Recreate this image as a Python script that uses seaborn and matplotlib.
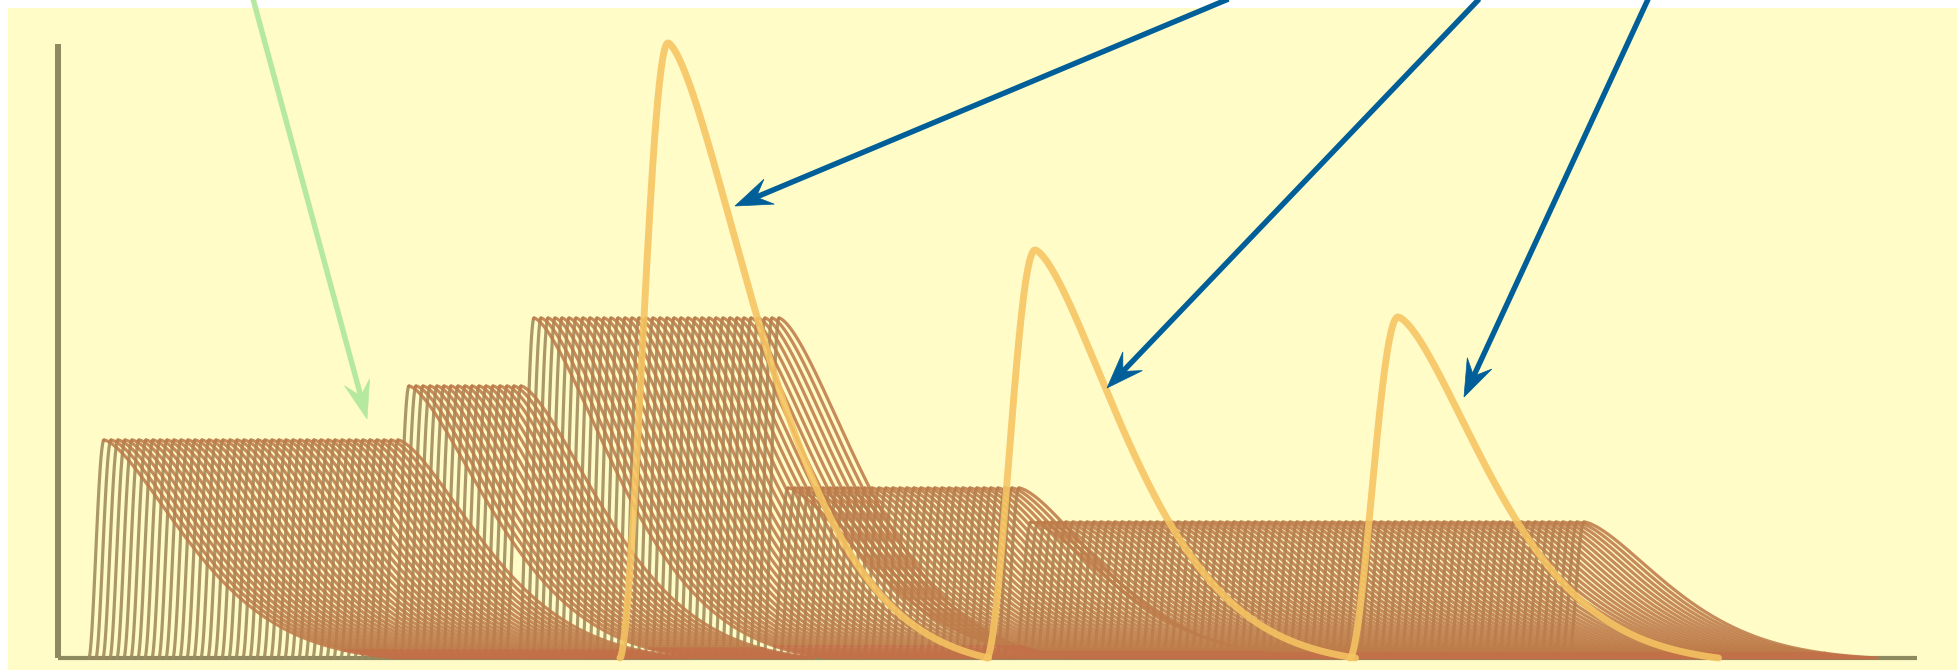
import numpy as np
import pandas as pd
import matplotlib
matplotlib.use("Agg")
import matplotlib.pyplot as plt
import seaborn as sns
from matplotlib.patches import Rectangle, Polygon

# ---------------- data (time in px-like units, response height above baseline) -------------
block_first_onset = [89, 394, 519, 773, 1016]
block_last_onset = [383, 511, 766, 1009, 1569]
block_amplitude = [218, 272, 340, 170, 136]
event_spacing = 7

single_peak = [668, 1035, 1398]
single_amplitude = [615, 408, 341]

# arrows: (start, tip) in image-pixel convention (y down)
green_arrow = [(252, -5), (367, 419)]
blue_arrows = [[(1238, -5), (735, 206)],
               [(1483, -5), (1107, 388)],
               [(1650, -5), (1464, 397)]]

# response shape parameters
small_rise, big_rise = 15, 48
small_decay, big_decay = 118, 129
decay_power = 1.5
tail_offset = 0.02
low_band = 0.035   # fraction of amplitude drawn in the reddish base colour

W, H = 1958, 670
BASE = 658  # pixel row of the baseline


def response(t, onset, rise, decay, amp):
    d = t - (onset + rise)
    h = np.zeros_like(t, dtype=float)
    r = (d >= -rise) & (d < 0)
    u = (d[r] + rise) / rise
    h[r] = np.sin(np.pi / 2 * u) ** 1.7
    f = d >= 0
    g = np.exp(-(d[f] / decay) ** decay_power)
    h[f] = np.clip((g - tail_offset) / (1 - tail_offset), 0, None)
    return amp * h


t = np.arange(0, W, 0.5)

rows = []
uid = 0
for a, b, amp in zip(block_first_onset, block_last_onset, block_amplitude):
    for on in np.arange(a, b + 1, event_spacing):
        y = response(t, on, small_rise, small_decay, amp)
        m = (t >= on) & ((t <= on + small_rise) | (y > 0)
                         | (np.r_[0, y[:-1]] > 0))
        tt, yy = t[m], y[m]
        band = np.where(tt < on + small_rise, "rise",
                        np.where(yy < low_band * amp, "low", "decay"))
        cuts = np.flatnonzero(band[1:] != band[:-1]) + 1
        starts = np.r_[0, cuts]
        ends = np.r_[cuts, len(tt)]
        for s, e in zip(starts, ends):
            s0 = max(s - 1, 0)
            e0 = min(e + 1, len(tt))
            rows.append(pd.DataFrame({"t": tt[s0:e0], "y": yy[s0:e0],
                                      "band": band[s], "unit": uid}))
            uid += 1
small_df = pd.concat(rows, ignore_index=True)

rows = []
for i, (pk, amp) in enumerate(zip(single_peak, single_amplitude)):
    on = pk - big_rise
    y = response(t, on, big_rise, big_decay, amp)
    m = (t >= on) & ((t <= pk) | (y > 0) | (np.r_[0, y[:-1]] > 0))
    rows.append(pd.DataFrame({"t": t[m], "y": y[m], "event": i}))
big_df = pd.concat(rows, ignore_index=True)

# ---------------- figure -------------------------------------------------------------------
sns.set_theme(style="white")
fig = plt.figure(figsize=(W / 100, H / 100), dpi=100, facecolor="white")
ax = fig.add_axes([0, 0, 1, 1])
ax.set_xlim(0, W)
ax.set_ylim(BASE - H, BASE)
ax.axis("off")

ax.add_patch(Rectangle((8, BASE - H), W, H - 8, facecolor="#FFFCC8",
                       edgecolor="none", zorder=0))

# axes lines
ax.plot([58, 58], [0, BASE - 44], color="#8E8A60", lw=4.3,
        solid_capstyle="butt", zorder=1)
ax.plot([58, 1917], [0, 0], color="#8E8A60", lw=3.0,
        solid_capstyle="butt", zorder=1)

sns.lineplot(data=small_df, x="t", y="y", units="unit", estimator=None,
             sort=False, hue="band",
             palette={"rise": "#9E8A5C", "decay": "#BE7C4A",
                      "low": "#C27048"},
             lw=2.3, alpha=0.88, ax=ax, legend=False, zorder=2)

sns.lineplot(data=big_df, x="t", y="y", units="event", estimator=None,
             sort=False, color="#F6C462", lw=5.0, alpha=0.88, ax=ax,
             legend=False, zorder=3)

ax.set_xlabel("")
ax.set_ylabel("")


def arrow(start, tip, color, lw, L=37, hw=13.5):
    sx, sy = start[0], BASE - start[1]
    tx, ty = tip[0], BASE - tip[1]
    v = np.array([tx - sx, ty - sy], float)
    u = v / np.hypot(*v)
    n = np.array([-u[1], u[0]])
    T = np.array([tx, ty])
    notch = T - 0.62 * L * u
    b1 = T - L * u + hw * n
    b2 = T - L * u - hw * n
    ax.plot([sx, notch[0] + 2 * u[0]], [sy, notch[1] + 2 * u[1]], color=color,
            lw=lw, solid_capstyle="butt", zorder=5, clip_on=False)
    ax.add_patch(Polygon([T, b1, notch, b2], closed=True, facecolor=color,
                         edgecolor=color, lw=0.5, zorder=5))


arrow(green_arrow[0], green_arrow[1], "#B6E9A0", 3.9, L=38, hw=13)
for s, e in blue_arrows:
    arrow(s, e, "#005F98", 3.9)

fig.savefig("out.png", dpi=100, facecolor="white")
